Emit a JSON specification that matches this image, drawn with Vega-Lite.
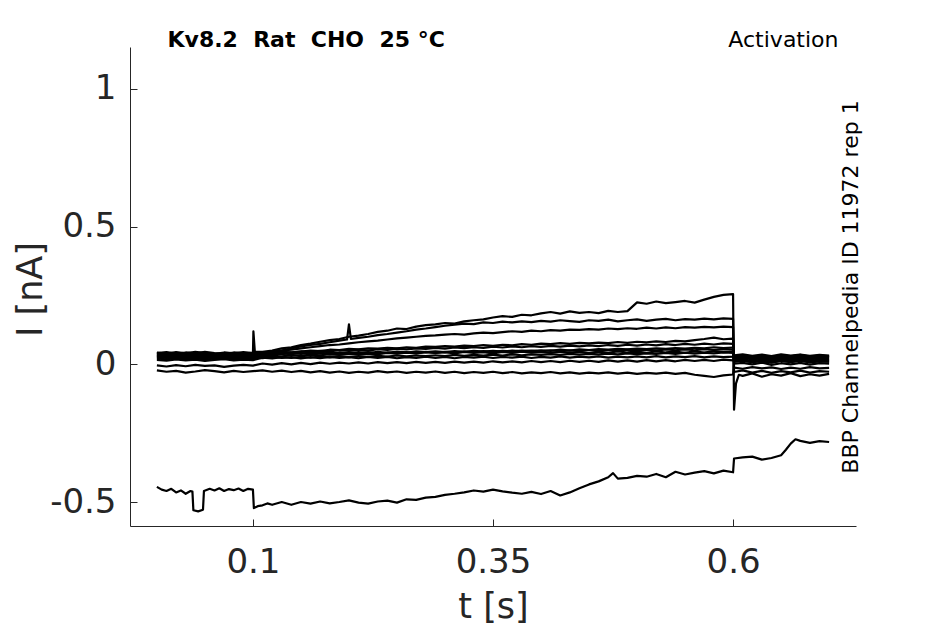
{
  "$schema": "https://vega.github.io/schema/vega-lite/v6.json",
  "autosize": "none",
  "padding": {"left": 130, "top": 47, "right": 89, "bottom": 98},
  "width": 726,
  "height": 479,
  "data": {"values": [
    {"s":1,"t":0,"i":0.036},{"s":1,"t":0.01,"i":0.033},{"s":1,"t":0.02,"i":0.038},{"s":1,"t":0.03,"i":0.034},{"s":1,"t":0.04,"i":0.037},{"s":1,"t":0.05,"i":0.032},{"s":1,"t":0.06,"i":0.036},{"s":1,"t":0.07,"i":0.039},{"s":1,"t":0.08,"i":0.034},{"s":1,"t":0.09,"i":0.037},{"s":1,"t":0.1,"i":0.035},{"s":1,"t":0.1005,"i":0.12},{"s":1,"t":0.102,"i":0.045},{"s":1,"t":0.11,"i":0.045},{"s":1,"t":0.12,"i":0.05},{"s":1,"t":0.13,"i":0.058},{"s":1,"t":0.14,"i":0.062},{"s":1,"t":0.15,"i":0.07},{"s":1,"t":0.16,"i":0.075},{"s":1,"t":0.17,"i":0.082},{"s":1,"t":0.18,"i":0.088},{"s":1,"t":0.19,"i":0.092},{"s":1,"t":0.2,"i":0.1},{"s":1,"t":0.21,"i":0.104},{"s":1,"t":0.22,"i":0.11},{"s":1,"t":0.23,"i":0.118},{"s":1,"t":0.24,"i":0.122},{"s":1,"t":0.25,"i":0.13},{"s":1,"t":0.26,"i":0.128},{"s":1,"t":0.27,"i":0.137},{"s":1,"t":0.28,"i":0.142},{"s":1,"t":0.29,"i":0.145},{"s":1,"t":0.3,"i":0.15},{"s":1,"t":0.31,"i":0.148},{"s":1,"t":0.32,"i":0.156},{"s":1,"t":0.33,"i":0.16},{"s":1,"t":0.34,"i":0.163},{"s":1,"t":0.35,"i":0.17},{"s":1,"t":0.36,"i":0.175},{"s":1,"t":0.37,"i":0.172},{"s":1,"t":0.38,"i":0.18},{"s":1,"t":0.39,"i":0.178},{"s":1,"t":0.4,"i":0.185},{"s":1,"t":0.41,"i":0.19},{"s":1,"t":0.42,"i":0.184},{"s":1,"t":0.43,"i":0.192},{"s":1,"t":0.44,"i":0.187},{"s":1,"t":0.45,"i":0.19},{"s":1,"t":0.46,"i":0.186},{"s":1,"t":0.47,"i":0.194},{"s":1,"t":0.48,"i":0.19},{"s":1,"t":0.49,"i":0.193},{"s":1,"t":0.5,"i":0.225},{"s":1,"t":0.51,"i":0.22},{"s":1,"t":0.52,"i":0.228},{"s":1,"t":0.53,"i":0.222},{"s":1,"t":0.54,"i":0.226},{"s":1,"t":0.55,"i":0.23},{"s":1,"t":0.56,"i":0.224},{"s":1,"t":0.57,"i":0.235},{"s":1,"t":0.58,"i":0.245},{"s":1,"t":0.59,"i":0.252},{"s":1,"t":0.6,"i":0.255},{"s":1,"t":0.601,"i":-0.165},{"s":1,"t":0.603,"i":-0.07},{"s":1,"t":0.606,"i":-0.038},{"s":1,"t":0.61,"i":-0.042},{"s":1,"t":0.62,"i":-0.033},{"s":1,"t":0.63,"i":-0.045},{"s":1,"t":0.64,"i":-0.036},{"s":1,"t":0.65,"i":-0.041},{"s":1,"t":0.66,"i":-0.032},{"s":1,"t":0.67,"i":-0.043},{"s":1,"t":0.68,"i":-0.036},{"s":1,"t":0.69,"i":-0.041},{"s":1,"t":0.7,"i":-0.035},
    {"s":2,"t":0,"i":0.031},{"s":2,"t":0.01,"i":0.034},{"s":2,"t":0.02,"i":0.029},{"s":2,"t":0.03,"i":0.033},{"s":2,"t":0.04,"i":0.03},{"s":2,"t":0.05,"i":0.035},{"s":2,"t":0.06,"i":0.031},{"s":2,"t":0.07,"i":0.028},{"s":2,"t":0.08,"i":0.033},{"s":2,"t":0.09,"i":0.03},{"s":2,"t":0.1,"i":0.032},{"s":2,"t":0.11,"i":0.04},{"s":2,"t":0.12,"i":0.045},{"s":2,"t":0.13,"i":0.05},{"s":2,"t":0.14,"i":0.058},{"s":2,"t":0.15,"i":0.065},{"s":2,"t":0.16,"i":0.07},{"s":2,"t":0.17,"i":0.074},{"s":2,"t":0.18,"i":0.08},{"s":2,"t":0.19,"i":0.086},{"s":2,"t":0.198,"i":0.09},{"s":2,"t":0.2,"i":0.145},{"s":2,"t":0.202,"i":0.092},{"s":2,"t":0.21,"i":0.096},{"s":2,"t":0.22,"i":0.1},{"s":2,"t":0.23,"i":0.106},{"s":2,"t":0.24,"i":0.11},{"s":2,"t":0.25,"i":0.115},{"s":2,"t":0.26,"i":0.12},{"s":2,"t":0.27,"i":0.126},{"s":2,"t":0.28,"i":0.13},{"s":2,"t":0.29,"i":0.135},{"s":2,"t":0.3,"i":0.14},{"s":2,"t":0.31,"i":0.144},{"s":2,"t":0.32,"i":0.148},{"s":2,"t":0.33,"i":0.146},{"s":2,"t":0.34,"i":0.152},{"s":2,"t":0.35,"i":0.15},{"s":2,"t":0.36,"i":0.155},{"s":2,"t":0.37,"i":0.152},{"s":2,"t":0.38,"i":0.156},{"s":2,"t":0.39,"i":0.153},{"s":2,"t":0.4,"i":0.158},{"s":2,"t":0.41,"i":0.155},{"s":2,"t":0.42,"i":0.16},{"s":2,"t":0.43,"i":0.157},{"s":2,"t":0.44,"i":0.154},{"s":2,"t":0.45,"i":0.16},{"s":2,"t":0.46,"i":0.158},{"s":2,"t":0.47,"i":0.162},{"s":2,"t":0.48,"i":0.156},{"s":2,"t":0.49,"i":0.16},{"s":2,"t":0.5,"i":0.163},{"s":2,"t":0.51,"i":0.158},{"s":2,"t":0.52,"i":0.162},{"s":2,"t":0.53,"i":0.165},{"s":2,"t":0.54,"i":0.16},{"s":2,"t":0.55,"i":0.164},{"s":2,"t":0.56,"i":0.162},{"s":2,"t":0.57,"i":0.166},{"s":2,"t":0.58,"i":0.163},{"s":2,"t":0.59,"i":0.167},{"s":2,"t":0.6,"i":0.165},{"s":2,"t":0.601,"i":-0.028},{"s":2,"t":0.61,"i":-0.022},{"s":2,"t":0.62,"i":-0.03},{"s":2,"t":0.63,"i":-0.024},{"s":2,"t":0.64,"i":-0.031},{"s":2,"t":0.65,"i":-0.025},{"s":2,"t":0.66,"i":-0.029},{"s":2,"t":0.67,"i":-0.023},{"s":2,"t":0.68,"i":-0.03},{"s":2,"t":0.69,"i":-0.025},{"s":2,"t":0.7,"i":-0.027},
    {"s":3,"t":0,"i":0.043},{"s":3,"t":0.01,"i":0.039},{"s":3,"t":0.02,"i":0.044},{"s":3,"t":0.03,"i":0.04},{"s":3,"t":0.04,"i":0.045},{"s":3,"t":0.05,"i":0.041},{"s":3,"t":0.06,"i":0.038},{"s":3,"t":0.07,"i":0.043},{"s":3,"t":0.08,"i":0.04},{"s":3,"t":0.09,"i":0.044},{"s":3,"t":0.1,"i":0.041},{"s":3,"t":0.11,"i":0.042},{"s":3,"t":0.12,"i":0.046},{"s":3,"t":0.13,"i":0.05},{"s":3,"t":0.14,"i":0.053},{"s":3,"t":0.15,"i":0.058},{"s":3,"t":0.16,"i":0.062},{"s":3,"t":0.17,"i":0.066},{"s":3,"t":0.18,"i":0.07},{"s":3,"t":0.19,"i":0.072},{"s":3,"t":0.2,"i":0.076},{"s":3,"t":0.21,"i":0.08},{"s":3,"t":0.22,"i":0.083},{"s":3,"t":0.23,"i":0.086},{"s":3,"t":0.24,"i":0.09},{"s":3,"t":0.25,"i":0.094},{"s":3,"t":0.26,"i":0.097},{"s":3,"t":0.27,"i":0.1},{"s":3,"t":0.28,"i":0.103},{"s":3,"t":0.29,"i":0.105},{"s":3,"t":0.3,"i":0.108},{"s":3,"t":0.31,"i":0.11},{"s":3,"t":0.32,"i":0.108},{"s":3,"t":0.33,"i":0.112},{"s":3,"t":0.34,"i":0.115},{"s":3,"t":0.35,"i":0.113},{"s":3,"t":0.36,"i":0.117},{"s":3,"t":0.37,"i":0.12},{"s":3,"t":0.38,"i":0.118},{"s":3,"t":0.39,"i":0.122},{"s":3,"t":0.4,"i":0.12},{"s":3,"t":0.41,"i":0.124},{"s":3,"t":0.42,"i":0.122},{"s":3,"t":0.43,"i":0.126},{"s":3,"t":0.44,"i":0.125},{"s":3,"t":0.45,"i":0.128},{"s":3,"t":0.46,"i":0.126},{"s":3,"t":0.47,"i":0.13},{"s":3,"t":0.48,"i":0.128},{"s":3,"t":0.49,"i":0.131},{"s":3,"t":0.5,"i":0.129},{"s":3,"t":0.51,"i":0.133},{"s":3,"t":0.52,"i":0.13},{"s":3,"t":0.53,"i":0.134},{"s":3,"t":0.54,"i":0.131},{"s":3,"t":0.55,"i":0.135},{"s":3,"t":0.56,"i":0.133},{"s":3,"t":0.57,"i":0.136},{"s":3,"t":0.58,"i":0.134},{"s":3,"t":0.59,"i":0.137},{"s":3,"t":0.6,"i":0.135},{"s":3,"t":0.601,"i":-0.012},{"s":3,"t":0.61,"i":-0.016},{"s":3,"t":0.62,"i":-0.01},{"s":3,"t":0.63,"i":-0.015},{"s":3,"t":0.64,"i":-0.011},{"s":3,"t":0.65,"i":-0.017},{"s":3,"t":0.66,"i":-0.012},{"s":3,"t":0.67,"i":-0.016},{"s":3,"t":0.68,"i":-0.01},{"s":3,"t":0.69,"i":-0.015},{"s":3,"t":0.7,"i":-0.013},
    {"s":4,"t":0,"i":0.026},{"s":4,"t":0.01,"i":0.023},{"s":4,"t":0.02,"i":0.028},{"s":4,"t":0.03,"i":0.024},{"s":4,"t":0.04,"i":0.027},{"s":4,"t":0.05,"i":0.022},{"s":4,"t":0.06,"i":0.026},{"s":4,"t":0.07,"i":0.029},{"s":4,"t":0.08,"i":0.024},{"s":4,"t":0.09,"i":0.027},{"s":4,"t":0.1,"i":0.025},{"s":4,"t":0.11,"i":0.032},{"s":4,"t":0.12,"i":0.036},{"s":4,"t":0.13,"i":0.04},{"s":4,"t":0.14,"i":0.043},{"s":4,"t":0.15,"i":0.046},{"s":4,"t":0.16,"i":0.05},{"s":4,"t":0.17,"i":0.048},{"s":4,"t":0.18,"i":0.053},{"s":4,"t":0.19,"i":0.052},{"s":4,"t":0.2,"i":0.056},{"s":4,"t":0.21,"i":0.054},{"s":4,"t":0.22,"i":0.058},{"s":4,"t":0.23,"i":0.057},{"s":4,"t":0.24,"i":0.06},{"s":4,"t":0.25,"i":0.058},{"s":4,"t":0.26,"i":0.062},{"s":4,"t":0.27,"i":0.06},{"s":4,"t":0.28,"i":0.064},{"s":4,"t":0.29,"i":0.063},{"s":4,"t":0.3,"i":0.066},{"s":4,"t":0.31,"i":0.064},{"s":4,"t":0.32,"i":0.068},{"s":4,"t":0.33,"i":0.066},{"s":4,"t":0.34,"i":0.07},{"s":4,"t":0.35,"i":0.067},{"s":4,"t":0.36,"i":0.071},{"s":4,"t":0.37,"i":0.069},{"s":4,"t":0.38,"i":0.073},{"s":4,"t":0.39,"i":0.071},{"s":4,"t":0.4,"i":0.075},{"s":4,"t":0.41,"i":0.073},{"s":4,"t":0.42,"i":0.077},{"s":4,"t":0.43,"i":0.074},{"s":4,"t":0.44,"i":0.078},{"s":4,"t":0.45,"i":0.076},{"s":4,"t":0.46,"i":0.079},{"s":4,"t":0.47,"i":0.077},{"s":4,"t":0.48,"i":0.081},{"s":4,"t":0.49,"i":0.078},{"s":4,"t":0.5,"i":0.082},{"s":4,"t":0.51,"i":0.08},{"s":4,"t":0.52,"i":0.083},{"s":4,"t":0.53,"i":0.081},{"s":4,"t":0.54,"i":0.085},{"s":4,"t":0.55,"i":0.083},{"s":4,"t":0.56,"i":0.088},{"s":4,"t":0.57,"i":0.092},{"s":4,"t":0.58,"i":0.097},{"s":4,"t":0.59,"i":0.091},{"s":4,"t":0.6,"i":0.093},{"s":4,"t":0.601,"i":0.002},{"s":4,"t":0.61,"i":0.005},{"s":4,"t":0.62,"i":0.0},{"s":4,"t":0.63,"i":0.006},{"s":4,"t":0.64,"i":-0.002},{"s":4,"t":0.65,"i":0.004},{"s":4,"t":0.66,"i":0.0},{"s":4,"t":0.67,"i":0.005},{"s":4,"t":0.68,"i":-0.001},{"s":4,"t":0.69,"i":0.004},{"s":4,"t":0.7,"i":0.002},
    {"s":5,"t":0,"i":0.036},{"s":5,"t":0.01,"i":0.039},{"s":5,"t":0.02,"i":0.034},{"s":5,"t":0.03,"i":0.038},{"s":5,"t":0.04,"i":0.035},{"s":5,"t":0.05,"i":0.04},{"s":5,"t":0.06,"i":0.036},{"s":5,"t":0.07,"i":0.033},{"s":5,"t":0.08,"i":0.038},{"s":5,"t":0.09,"i":0.035},{"s":5,"t":0.1,"i":0.037},{"s":5,"t":0.11,"i":0.042},{"s":5,"t":0.12,"i":0.04},{"s":5,"t":0.13,"i":0.045},{"s":5,"t":0.14,"i":0.043},{"s":5,"t":0.15,"i":0.047},{"s":5,"t":0.16,"i":0.045},{"s":5,"t":0.17,"i":0.049},{"s":5,"t":0.18,"i":0.047},{"s":5,"t":0.19,"i":0.051},{"s":5,"t":0.2,"i":0.049},{"s":5,"t":0.21,"i":0.053},{"s":5,"t":0.22,"i":0.05},{"s":5,"t":0.23,"i":0.055},{"s":5,"t":0.24,"i":0.052},{"s":5,"t":0.25,"i":0.057},{"s":5,"t":0.26,"i":0.054},{"s":5,"t":0.27,"i":0.058},{"s":5,"t":0.28,"i":0.056},{"s":5,"t":0.29,"i":0.06},{"s":5,"t":0.3,"i":0.057},{"s":5,"t":0.31,"i":0.061},{"s":5,"t":0.32,"i":0.059},{"s":5,"t":0.33,"i":0.062},{"s":5,"t":0.34,"i":0.06},{"s":5,"t":0.35,"i":0.064},{"s":5,"t":0.36,"i":0.061},{"s":5,"t":0.37,"i":0.065},{"s":5,"t":0.38,"i":0.062},{"s":5,"t":0.39,"i":0.066},{"s":5,"t":0.4,"i":0.063},{"s":5,"t":0.41,"i":0.067},{"s":5,"t":0.42,"i":0.064},{"s":5,"t":0.43,"i":0.068},{"s":5,"t":0.44,"i":0.065},{"s":5,"t":0.45,"i":0.069},{"s":5,"t":0.46,"i":0.066},{"s":5,"t":0.47,"i":0.07},{"s":5,"t":0.48,"i":0.067},{"s":5,"t":0.49,"i":0.071},{"s":5,"t":0.5,"i":0.068},{"s":5,"t":0.51,"i":0.072},{"s":5,"t":0.52,"i":0.069},{"s":5,"t":0.53,"i":0.073},{"s":5,"t":0.54,"i":0.07},{"s":5,"t":0.55,"i":0.074},{"s":5,"t":0.56,"i":0.071},{"s":5,"t":0.57,"i":0.075},{"s":5,"t":0.58,"i":0.072},{"s":5,"t":0.59,"i":0.076},{"s":5,"t":0.6,"i":0.074},{"s":5,"t":0.601,"i":0.02},{"s":5,"t":0.61,"i":0.024},{"s":5,"t":0.62,"i":0.018},{"s":5,"t":0.63,"i":0.022},{"s":5,"t":0.64,"i":0.017},{"s":5,"t":0.65,"i":0.023},{"s":5,"t":0.66,"i":0.019},{"s":5,"t":0.67,"i":0.024},{"s":5,"t":0.68,"i":0.018},{"s":5,"t":0.69,"i":0.022},{"s":5,"t":0.7,"i":0.02},
    {"s":6,"t":0,"i":0.021},{"s":6,"t":0.01,"i":0.018},{"s":6,"t":0.02,"i":0.023},{"s":6,"t":0.03,"i":0.019},{"s":6,"t":0.04,"i":0.022},{"s":6,"t":0.05,"i":0.017},{"s":6,"t":0.06,"i":0.021},{"s":6,"t":0.07,"i":0.024},{"s":6,"t":0.08,"i":0.019},{"s":6,"t":0.09,"i":0.022},{"s":6,"t":0.1,"i":0.02},{"s":6,"t":0.11,"i":0.028},{"s":6,"t":0.12,"i":0.031},{"s":6,"t":0.13,"i":0.029},{"s":6,"t":0.14,"i":0.033},{"s":6,"t":0.15,"i":0.031},{"s":6,"t":0.16,"i":0.035},{"s":6,"t":0.17,"i":0.033},{"s":6,"t":0.18,"i":0.036},{"s":6,"t":0.19,"i":0.034},{"s":6,"t":0.2,"i":0.038},{"s":6,"t":0.21,"i":0.036},{"s":6,"t":0.22,"i":0.039},{"s":6,"t":0.23,"i":0.037},{"s":6,"t":0.24,"i":0.041},{"s":6,"t":0.25,"i":0.039},{"s":6,"t":0.26,"i":0.042},{"s":6,"t":0.27,"i":0.04},{"s":6,"t":0.28,"i":0.044},{"s":6,"t":0.29,"i":0.041},{"s":6,"t":0.3,"i":0.045},{"s":6,"t":0.31,"i":0.043},{"s":6,"t":0.32,"i":0.046},{"s":6,"t":0.33,"i":0.044},{"s":6,"t":0.34,"i":0.048},{"s":6,"t":0.35,"i":0.045},{"s":6,"t":0.36,"i":0.049},{"s":6,"t":0.37,"i":0.047},{"s":6,"t":0.38,"i":0.05},{"s":6,"t":0.39,"i":0.048},{"s":6,"t":0.4,"i":0.051},{"s":6,"t":0.41,"i":0.049},{"s":6,"t":0.42,"i":0.053},{"s":6,"t":0.43,"i":0.05},{"s":6,"t":0.44,"i":0.054},{"s":6,"t":0.45,"i":0.052},{"s":6,"t":0.46,"i":0.055},{"s":6,"t":0.47,"i":0.053},{"s":6,"t":0.48,"i":0.056},{"s":6,"t":0.49,"i":0.054},{"s":6,"t":0.5,"i":0.057},{"s":6,"t":0.51,"i":0.055},{"s":6,"t":0.52,"i":0.058},{"s":6,"t":0.53,"i":0.056},{"s":6,"t":0.54,"i":0.059},{"s":6,"t":0.55,"i":0.057},{"s":6,"t":0.56,"i":0.06},{"s":6,"t":0.57,"i":0.058},{"s":6,"t":0.58,"i":0.062},{"s":6,"t":0.59,"i":0.059},{"s":6,"t":0.6,"i":0.061},{"s":6,"t":0.601,"i":0.01},{"s":6,"t":0.61,"i":0.013},{"s":6,"t":0.62,"i":0.008},{"s":6,"t":0.63,"i":0.012},{"s":6,"t":0.64,"i":0.007},{"s":6,"t":0.65,"i":0.013},{"s":6,"t":0.66,"i":0.009},{"s":6,"t":0.67,"i":0.014},{"s":6,"t":0.68,"i":0.008},{"s":6,"t":0.69,"i":0.012},{"s":6,"t":0.7,"i":0.01},
    {"s":7,"t":0,"i":0.031},{"s":7,"t":0.01,"i":0.028},{"s":7,"t":0.02,"i":0.033},{"s":7,"t":0.03,"i":0.029},{"s":7,"t":0.04,"i":0.032},{"s":7,"t":0.05,"i":0.027},{"s":7,"t":0.06,"i":0.031},{"s":7,"t":0.07,"i":0.034},{"s":7,"t":0.08,"i":0.029},{"s":7,"t":0.09,"i":0.032},{"s":7,"t":0.1,"i":0.03},{"s":7,"t":0.11,"i":0.038},{"s":7,"t":0.12,"i":0.036},{"s":7,"t":0.13,"i":0.04},{"s":7,"t":0.14,"i":0.037},{"s":7,"t":0.15,"i":0.041},{"s":7,"t":0.16,"i":0.038},{"s":7,"t":0.17,"i":0.042},{"s":7,"t":0.18,"i":0.039},{"s":7,"t":0.19,"i":0.043},{"s":7,"t":0.2,"i":0.04},{"s":7,"t":0.21,"i":0.044},{"s":7,"t":0.22,"i":0.041},{"s":7,"t":0.23,"i":0.045},{"s":7,"t":0.24,"i":0.042},{"s":7,"t":0.25,"i":0.046},{"s":7,"t":0.26,"i":0.043},{"s":7,"t":0.27,"i":0.047},{"s":7,"t":0.28,"i":0.044},{"s":7,"t":0.29,"i":0.047},{"s":7,"t":0.3,"i":0.044},{"s":7,"t":0.31,"i":0.048},{"s":7,"t":0.32,"i":0.045},{"s":7,"t":0.33,"i":0.049},{"s":7,"t":0.34,"i":0.046},{"s":7,"t":0.35,"i":0.049},{"s":7,"t":0.36,"i":0.046},{"s":7,"t":0.37,"i":0.05},{"s":7,"t":0.38,"i":0.047},{"s":7,"t":0.39,"i":0.05},{"s":7,"t":0.4,"i":0.047},{"s":7,"t":0.41,"i":0.051},{"s":7,"t":0.42,"i":0.048},{"s":7,"t":0.43,"i":0.051},{"s":7,"t":0.44,"i":0.048},{"s":7,"t":0.45,"i":0.052},{"s":7,"t":0.46,"i":0.049},{"s":7,"t":0.47,"i":0.052},{"s":7,"t":0.48,"i":0.049},{"s":7,"t":0.49,"i":0.053},{"s":7,"t":0.5,"i":0.05},{"s":7,"t":0.51,"i":0.053},{"s":7,"t":0.52,"i":0.05},{"s":7,"t":0.53,"i":0.054},{"s":7,"t":0.54,"i":0.051},{"s":7,"t":0.55,"i":0.054},{"s":7,"t":0.56,"i":0.051},{"s":7,"t":0.57,"i":0.055},{"s":7,"t":0.58,"i":0.052},{"s":7,"t":0.59,"i":0.055},{"s":7,"t":0.6,"i":0.053},{"s":7,"t":0.601,"i":0.025},{"s":7,"t":0.61,"i":0.028},{"s":7,"t":0.62,"i":0.023},{"s":7,"t":0.63,"i":0.027},{"s":7,"t":0.64,"i":0.022},{"s":7,"t":0.65,"i":0.028},{"s":7,"t":0.66,"i":0.024},{"s":7,"t":0.67,"i":0.029},{"s":7,"t":0.68,"i":0.023},{"s":7,"t":0.69,"i":0.027},{"s":7,"t":0.7,"i":0.025},
    {"s":8,"t":0,"i":0.016},{"s":8,"t":0.01,"i":0.013},{"s":8,"t":0.02,"i":0.018},{"s":8,"t":0.03,"i":0.014},{"s":8,"t":0.04,"i":0.017},{"s":8,"t":0.05,"i":0.012},{"s":8,"t":0.06,"i":0.016},{"s":8,"t":0.07,"i":0.019},{"s":8,"t":0.08,"i":0.014},{"s":8,"t":0.09,"i":0.017},{"s":8,"t":0.1,"i":0.015},{"s":8,"t":0.11,"i":0.024},{"s":8,"t":0.12,"i":0.021},{"s":8,"t":0.13,"i":0.026},{"s":8,"t":0.14,"i":0.023},{"s":8,"t":0.15,"i":0.027},{"s":8,"t":0.16,"i":0.024},{"s":8,"t":0.17,"i":0.028},{"s":8,"t":0.18,"i":0.025},{"s":8,"t":0.19,"i":0.029},{"s":8,"t":0.2,"i":0.026},{"s":8,"t":0.21,"i":0.03},{"s":8,"t":0.22,"i":0.027},{"s":8,"t":0.23,"i":0.031},{"s":8,"t":0.24,"i":0.028},{"s":8,"t":0.25,"i":0.032},{"s":8,"t":0.26,"i":0.029},{"s":8,"t":0.27,"i":0.032},{"s":8,"t":0.28,"i":0.03},{"s":8,"t":0.29,"i":0.033},{"s":8,"t":0.3,"i":0.03},{"s":8,"t":0.31,"i":0.034},{"s":8,"t":0.32,"i":0.031},{"s":8,"t":0.33,"i":0.034},{"s":8,"t":0.34,"i":0.032},{"s":8,"t":0.35,"i":0.035},{"s":8,"t":0.36,"i":0.032},{"s":8,"t":0.37,"i":0.036},{"s":8,"t":0.38,"i":0.033},{"s":8,"t":0.39,"i":0.036},{"s":8,"t":0.4,"i":0.034},{"s":8,"t":0.41,"i":0.037},{"s":8,"t":0.42,"i":0.034},{"s":8,"t":0.43,"i":0.038},{"s":8,"t":0.44,"i":0.035},{"s":8,"t":0.45,"i":0.038},{"s":8,"t":0.46,"i":0.036},{"s":8,"t":0.47,"i":0.039},{"s":8,"t":0.48,"i":0.036},{"s":8,"t":0.49,"i":0.04},{"s":8,"t":0.5,"i":0.037},{"s":8,"t":0.51,"i":0.04},{"s":8,"t":0.52,"i":0.038},{"s":8,"t":0.53,"i":0.041},{"s":8,"t":0.54,"i":0.038},{"s":8,"t":0.55,"i":0.042},{"s":8,"t":0.56,"i":0.039},{"s":8,"t":0.57,"i":0.042},{"s":8,"t":0.58,"i":0.04},{"s":8,"t":0.59,"i":0.043},{"s":8,"t":0.6,"i":0.041},{"s":8,"t":0.601,"i":0.03},{"s":8,"t":0.61,"i":0.033},{"s":8,"t":0.62,"i":0.028},{"s":8,"t":0.63,"i":0.032},{"s":8,"t":0.64,"i":0.027},{"s":8,"t":0.65,"i":0.033},{"s":8,"t":0.66,"i":0.029},{"s":8,"t":0.67,"i":0.034},{"s":8,"t":0.68,"i":0.028},{"s":8,"t":0.69,"i":0.032},{"s":8,"t":0.7,"i":0.03},
    {"s":9,"t":0,"i":0.041},{"s":9,"t":0.01,"i":0.044},{"s":9,"t":0.02,"i":0.039},{"s":9,"t":0.03,"i":0.043},{"s":9,"t":0.04,"i":0.04},{"s":9,"t":0.05,"i":0.045},{"s":9,"t":0.06,"i":0.041},{"s":9,"t":0.07,"i":0.038},{"s":9,"t":0.08,"i":0.043},{"s":9,"t":0.09,"i":0.04},{"s":9,"t":0.1,"i":0.042},{"s":9,"t":0.11,"i":0.038},{"s":9,"t":0.12,"i":0.042},{"s":9,"t":0.13,"i":0.037},{"s":9,"t":0.14,"i":0.041},{"s":9,"t":0.15,"i":0.038},{"s":9,"t":0.16,"i":0.043},{"s":9,"t":0.17,"i":0.039},{"s":9,"t":0.18,"i":0.042},{"s":9,"t":0.19,"i":0.038},{"s":9,"t":0.2,"i":0.043},{"s":9,"t":0.21,"i":0.04},{"s":9,"t":0.22,"i":0.044},{"s":9,"t":0.23,"i":0.039},{"s":9,"t":0.24,"i":0.043},{"s":9,"t":0.25,"i":0.04},{"s":9,"t":0.26,"i":0.044},{"s":9,"t":0.27,"i":0.04},{"s":9,"t":0.28,"i":0.045},{"s":9,"t":0.29,"i":0.041},{"s":9,"t":0.3,"i":0.044},{"s":9,"t":0.31,"i":0.04},{"s":9,"t":0.32,"i":0.045},{"s":9,"t":0.33,"i":0.041},{"s":9,"t":0.34,"i":0.044},{"s":9,"t":0.35,"i":0.04},{"s":9,"t":0.36,"i":0.045},{"s":9,"t":0.37,"i":0.041},{"s":9,"t":0.38,"i":0.046},{"s":9,"t":0.39,"i":0.042},{"s":9,"t":0.4,"i":0.045},{"s":9,"t":0.41,"i":0.041},{"s":9,"t":0.42,"i":0.046},{"s":9,"t":0.43,"i":0.042},{"s":9,"t":0.44,"i":0.045},{"s":9,"t":0.45,"i":0.041},{"s":9,"t":0.46,"i":0.046},{"s":9,"t":0.47,"i":0.042},{"s":9,"t":0.48,"i":0.047},{"s":9,"t":0.49,"i":0.043},{"s":9,"t":0.5,"i":0.046},{"s":9,"t":0.51,"i":0.042},{"s":9,"t":0.52,"i":0.047},{"s":9,"t":0.53,"i":0.043},{"s":9,"t":0.54,"i":0.046},{"s":9,"t":0.55,"i":0.042},{"s":9,"t":0.56,"i":0.047},{"s":9,"t":0.57,"i":0.043},{"s":9,"t":0.58,"i":0.048},{"s":9,"t":0.59,"i":0.044},{"s":9,"t":0.6,"i":0.046},{"s":9,"t":0.601,"i":0.015},{"s":9,"t":0.61,"i":0.018},{"s":9,"t":0.62,"i":0.013},{"s":9,"t":0.63,"i":0.017},{"s":9,"t":0.64,"i":0.012},{"s":9,"t":0.65,"i":0.018},{"s":9,"t":0.66,"i":0.014},{"s":9,"t":0.67,"i":0.019},{"s":9,"t":0.68,"i":0.013},{"s":9,"t":0.69,"i":0.017},{"s":9,"t":0.7,"i":0.015},
    {"s":10,"t":0,"i":0.024},{"s":10,"t":0.01,"i":0.027},{"s":10,"t":0.02,"i":0.022},{"s":10,"t":0.03,"i":0.026},{"s":10,"t":0.04,"i":0.023},{"s":10,"t":0.05,"i":0.028},{"s":10,"t":0.06,"i":0.024},{"s":10,"t":0.07,"i":0.021},{"s":10,"t":0.08,"i":0.026},{"s":10,"t":0.09,"i":0.023},{"s":10,"t":0.1,"i":0.025},{"s":10,"t":0.11,"i":0.022},{"s":10,"t":0.12,"i":0.027},{"s":10,"t":0.13,"i":0.023},{"s":10,"t":0.14,"i":0.026},{"s":10,"t":0.15,"i":0.021},{"s":10,"t":0.16,"i":0.026},{"s":10,"t":0.17,"i":0.022},{"s":10,"t":0.18,"i":0.027},{"s":10,"t":0.19,"i":0.023},{"s":10,"t":0.2,"i":0.026},{"s":10,"t":0.21,"i":0.022},{"s":10,"t":0.22,"i":0.027},{"s":10,"t":0.23,"i":0.023},{"s":10,"t":0.24,"i":0.027},{"s":10,"t":0.25,"i":0.022},{"s":10,"t":0.26,"i":0.026},{"s":10,"t":0.27,"i":0.023},{"s":10,"t":0.28,"i":0.028},{"s":10,"t":0.29,"i":0.023},{"s":10,"t":0.3,"i":0.027},{"s":10,"t":0.31,"i":0.022},{"s":10,"t":0.32,"i":0.027},{"s":10,"t":0.33,"i":0.024},{"s":10,"t":0.34,"i":0.028},{"s":10,"t":0.35,"i":0.023},{"s":10,"t":0.36,"i":0.027},{"s":10,"t":0.37,"i":0.024},{"s":10,"t":0.38,"i":0.028},{"s":10,"t":0.39,"i":0.023},{"s":10,"t":0.4,"i":0.027},{"s":10,"t":0.41,"i":0.024},{"s":10,"t":0.42,"i":0.029},{"s":10,"t":0.43,"i":0.024},{"s":10,"t":0.44,"i":0.028},{"s":10,"t":0.45,"i":0.025},{"s":10,"t":0.46,"i":0.029},{"s":10,"t":0.47,"i":0.024},{"s":10,"t":0.48,"i":0.028},{"s":10,"t":0.49,"i":0.025},{"s":10,"t":0.5,"i":0.029},{"s":10,"t":0.51,"i":0.025},{"s":10,"t":0.52,"i":0.03},{"s":10,"t":0.53,"i":0.025},{"s":10,"t":0.54,"i":0.029},{"s":10,"t":0.55,"i":0.026},{"s":10,"t":0.56,"i":0.03},{"s":10,"t":0.57,"i":0.025},{"s":10,"t":0.58,"i":0.029},{"s":10,"t":0.59,"i":0.026},{"s":10,"t":0.6,"i":0.028},{"s":10,"t":0.601,"i":0.033},{"s":10,"t":0.61,"i":0.036},{"s":10,"t":0.62,"i":0.031},{"s":10,"t":0.63,"i":0.035},{"s":10,"t":0.64,"i":0.03},{"s":10,"t":0.65,"i":0.036},{"s":10,"t":0.66,"i":0.032},{"s":10,"t":0.67,"i":0.035},{"s":10,"t":0.68,"i":0.031},{"s":10,"t":0.69,"i":0.034},{"s":10,"t":0.7,"i":0.032},
    {"s":11,"t":0,"i":-0.004},{"s":11,"t":0.01,"i":-0.008},{"s":11,"t":0.02,"i":-0.003},{"s":11,"t":0.03,"i":-0.007},{"s":11,"t":0.04,"i":-0.002},{"s":11,"t":0.05,"i":-0.006},{"s":11,"t":0.06,"i":-0.004},{"s":11,"t":0.07,"i":-0.009},{"s":11,"t":0.08,"i":-0.005},{"s":11,"t":0.09,"i":-0.002},{"s":11,"t":0.1,"i":-0.005},{"s":11,"t":0.11,"i":0.003},{"s":11,"t":0.12,"i":-0.001},{"s":11,"t":0.13,"i":0.004},{"s":11,"t":0.14,"i":0.0},{"s":11,"t":0.15,"i":0.005},{"s":11,"t":0.16,"i":0.001},{"s":11,"t":0.17,"i":0.006},{"s":11,"t":0.18,"i":0.002},{"s":11,"t":0.19,"i":0.006},{"s":11,"t":0.2,"i":0.003},{"s":11,"t":0.21,"i":0.007},{"s":11,"t":0.22,"i":0.003},{"s":11,"t":0.23,"i":0.008},{"s":11,"t":0.24,"i":0.004},{"s":11,"t":0.25,"i":0.008},{"s":11,"t":0.26,"i":0.004},{"s":11,"t":0.27,"i":0.009},{"s":11,"t":0.28,"i":0.005},{"s":11,"t":0.29,"i":0.009},{"s":11,"t":0.3,"i":0.005},{"s":11,"t":0.31,"i":0.01},{"s":11,"t":0.32,"i":0.006},{"s":11,"t":0.33,"i":0.01},{"s":11,"t":0.34,"i":0.006},{"s":11,"t":0.35,"i":0.011},{"s":11,"t":0.36,"i":0.007},{"s":11,"t":0.37,"i":0.011},{"s":11,"t":0.38,"i":0.007},{"s":11,"t":0.39,"i":0.012},{"s":11,"t":0.4,"i":0.008},{"s":11,"t":0.41,"i":0.012},{"s":11,"t":0.42,"i":0.008},{"s":11,"t":0.43,"i":0.013},{"s":11,"t":0.44,"i":0.009},{"s":11,"t":0.45,"i":0.013},{"s":11,"t":0.46,"i":0.009},{"s":11,"t":0.47,"i":0.014},{"s":11,"t":0.48,"i":0.01},{"s":11,"t":0.49,"i":0.014},{"s":11,"t":0.5,"i":0.01},{"s":11,"t":0.51,"i":0.015},{"s":11,"t":0.52,"i":0.011},{"s":11,"t":0.53,"i":0.015},{"s":11,"t":0.54,"i":0.011},{"s":11,"t":0.55,"i":0.016},{"s":11,"t":0.56,"i":0.012},{"s":11,"t":0.57,"i":0.016},{"s":11,"t":0.58,"i":0.012},{"s":11,"t":0.59,"i":0.017},{"s":11,"t":0.6,"i":0.014},{"s":11,"t":0.601,"i":0.025},{"s":11,"t":0.61,"i":0.028},{"s":11,"t":0.62,"i":0.022},{"s":11,"t":0.63,"i":0.027},{"s":11,"t":0.64,"i":0.023},{"s":11,"t":0.65,"i":0.029},{"s":11,"t":0.66,"i":0.024},{"s":11,"t":0.67,"i":0.028},{"s":11,"t":0.68,"i":0.022},{"s":11,"t":0.69,"i":0.027},{"s":11,"t":0.7,"i":0.025},
    {"s":12,"t":0,"i":-0.022},{"s":12,"t":0.01,"i":-0.027},{"s":12,"t":0.02,"i":-0.024},{"s":12,"t":0.03,"i":-0.03},{"s":12,"t":0.04,"i":-0.026},{"s":12,"t":0.05,"i":-0.021},{"s":12,"t":0.06,"i":-0.025},{"s":12,"t":0.07,"i":-0.029},{"s":12,"t":0.08,"i":-0.024},{"s":12,"t":0.09,"i":-0.028},{"s":12,"t":0.1,"i":-0.025},{"s":12,"t":0.11,"i":-0.022},{"s":12,"t":0.12,"i":-0.027},{"s":12,"t":0.13,"i":-0.023},{"s":12,"t":0.14,"i":-0.028},{"s":12,"t":0.15,"i":-0.024},{"s":12,"t":0.16,"i":-0.029},{"s":12,"t":0.17,"i":-0.025},{"s":12,"t":0.18,"i":-0.03},{"s":12,"t":0.19,"i":-0.026},{"s":12,"t":0.2,"i":-0.031},{"s":12,"t":0.21,"i":-0.027},{"s":12,"t":0.22,"i":-0.03},{"s":12,"t":0.23,"i":-0.025},{"s":12,"t":0.24,"i":-0.029},{"s":12,"t":0.25,"i":-0.026},{"s":12,"t":0.26,"i":-0.031},{"s":12,"t":0.27,"i":-0.027},{"s":12,"t":0.28,"i":-0.03},{"s":12,"t":0.29,"i":-0.026},{"s":12,"t":0.3,"i":-0.031},{"s":12,"t":0.31,"i":-0.027},{"s":12,"t":0.32,"i":-0.032},{"s":12,"t":0.33,"i":-0.028},{"s":12,"t":0.34,"i":-0.031},{"s":12,"t":0.35,"i":-0.027},{"s":12,"t":0.36,"i":-0.032},{"s":12,"t":0.37,"i":-0.028},{"s":12,"t":0.38,"i":-0.033},{"s":12,"t":0.39,"i":-0.029},{"s":12,"t":0.4,"i":-0.032},{"s":12,"t":0.41,"i":-0.028},{"s":12,"t":0.42,"i":-0.033},{"s":12,"t":0.43,"i":-0.029},{"s":12,"t":0.44,"i":-0.034},{"s":12,"t":0.45,"i":-0.03},{"s":12,"t":0.46,"i":-0.033},{"s":12,"t":0.47,"i":-0.029},{"s":12,"t":0.48,"i":-0.034},{"s":12,"t":0.49,"i":-0.03},{"s":12,"t":0.5,"i":-0.035},{"s":12,"t":0.51,"i":-0.031},{"s":12,"t":0.52,"i":-0.034},{"s":12,"t":0.53,"i":-0.03},{"s":12,"t":0.54,"i":-0.035},{"s":12,"t":0.55,"i":-0.031},{"s":12,"t":0.56,"i":-0.038},{"s":12,"t":0.57,"i":-0.042},{"s":12,"t":0.58,"i":-0.046},{"s":12,"t":0.59,"i":-0.04},{"s":12,"t":0.6,"i":-0.037},{"s":12,"t":0.601,"i":0.01},{"s":12,"t":0.61,"i":0.013},{"s":12,"t":0.62,"i":0.008},{"s":12,"t":0.63,"i":0.012},{"s":12,"t":0.64,"i":0.006},{"s":12,"t":0.65,"i":0.012},{"s":12,"t":0.66,"i":0.008},{"s":12,"t":0.67,"i":0.013},{"s":12,"t":0.68,"i":0.007},{"s":12,"t":0.69,"i":0.011},{"s":12,"t":0.7,"i":0.01},
    {"s":13,"t":0,"i":-0.445},{"s":13,"t":0.005,"i":-0.455},{"s":13,"t":0.01,"i":-0.46},{"s":13,"t":0.015,"i":-0.452},{"s":13,"t":0.02,"i":-0.465},{"s":13,"t":0.025,"i":-0.458},{"s":13,"t":0.03,"i":-0.47},{"s":13,"t":0.035,"i":-0.46},{"s":13,"t":0.037,"i":-0.462},{"s":13,"t":0.038,"i":-0.53},{"s":13,"t":0.043,"i":-0.534},{"s":13,"t":0.048,"i":-0.528},{"s":13,"t":0.049,"i":-0.46},{"s":13,"t":0.055,"i":-0.452},{"s":13,"t":0.06,"i":-0.458},{"s":13,"t":0.065,"i":-0.45},{"s":13,"t":0.07,"i":-0.46},{"s":13,"t":0.075,"i":-0.453},{"s":13,"t":0.08,"i":-0.457},{"s":13,"t":0.085,"i":-0.451},{"s":13,"t":0.09,"i":-0.46},{"s":13,"t":0.095,"i":-0.452},{"s":13,"t":0.1,"i":-0.455},{"s":13,"t":0.101,"i":-0.522},{"s":13,"t":0.105,"i":-0.515},{"s":13,"t":0.11,"i":-0.512},{"s":13,"t":0.115,"i":-0.505},{"s":13,"t":0.12,"i":-0.51},{"s":13,"t":0.13,"i":-0.5},{"s":13,"t":0.14,"i":-0.51},{"s":13,"t":0.15,"i":-0.5},{"s":13,"t":0.16,"i":-0.506},{"s":13,"t":0.17,"i":-0.498},{"s":13,"t":0.18,"i":-0.505},{"s":13,"t":0.19,"i":-0.5},{"s":13,"t":0.2,"i":-0.494},{"s":13,"t":0.21,"i":-0.502},{"s":13,"t":0.22,"i":-0.506},{"s":13,"t":0.23,"i":-0.498},{"s":13,"t":0.24,"i":-0.495},{"s":13,"t":0.25,"i":-0.502},{"s":13,"t":0.26,"i":-0.49},{"s":13,"t":0.27,"i":-0.492},{"s":13,"t":0.28,"i":-0.484},{"s":13,"t":0.29,"i":-0.481},{"s":13,"t":0.3,"i":-0.474},{"s":13,"t":0.31,"i":-0.47},{"s":13,"t":0.32,"i":-0.465},{"s":13,"t":0.33,"i":-0.458},{"s":13,"t":0.34,"i":-0.462},{"s":13,"t":0.35,"i":-0.455},{"s":13,"t":0.36,"i":-0.461},{"s":13,"t":0.37,"i":-0.466},{"s":13,"t":0.38,"i":-0.47},{"s":13,"t":0.39,"i":-0.463},{"s":13,"t":0.4,"i":-0.471},{"s":13,"t":0.41,"i":-0.46},{"s":13,"t":0.42,"i":-0.476},{"s":13,"t":0.43,"i":-0.465},{"s":13,"t":0.44,"i":-0.45},{"s":13,"t":0.45,"i":-0.436},{"s":13,"t":0.46,"i":-0.425},{"s":13,"t":0.47,"i":-0.41},{"s":13,"t":0.475,"i":-0.395},{"s":13,"t":0.48,"i":-0.415},{"s":13,"t":0.49,"i":-0.412},{"s":13,"t":0.5,"i":-0.405},{"s":13,"t":0.51,"i":-0.408},{"s":13,"t":0.52,"i":-0.398},{"s":13,"t":0.53,"i":-0.41},{"s":13,"t":0.54,"i":-0.39},{"s":13,"t":0.55,"i":-0.4},{"s":13,"t":0.56,"i":-0.393},{"s":13,"t":0.57,"i":-0.388},{"s":13,"t":0.58,"i":-0.396},{"s":13,"t":0.59,"i":-0.386},{"s":13,"t":0.6,"i":-0.392},{"s":13,"t":0.601,"i":-0.342},{"s":13,"t":0.61,"i":-0.338},{"s":13,"t":0.62,"i":-0.335},{"s":13,"t":0.63,"i":-0.346},{"s":13,"t":0.64,"i":-0.34},{"s":13,"t":0.65,"i":-0.33},{"s":13,"t":0.655,"i":-0.31},{"s":13,"t":0.66,"i":-0.288},{"s":13,"t":0.665,"i":-0.272},{"s":13,"t":0.67,"i":-0.278},{"s":13,"t":0.68,"i":-0.285},{"s":13,"t":0.69,"i":-0.279},{"s":13,"t":0.7,"i":-0.282}
  ]},
  "resolve": {"axis": {"x": "independent", "y": "independent"}},
  "layer": [
    {
      "transform": [{"filter": "datum.s <= 6"}],
      "mark": {"type": "line", "color": "black", "strokeWidth": 2.2, "strokeJoin": "round"},
      "encoding": {
        "x": {
          "field": "t", "type": "quantitative",
          "scale": {"domain": [-0.028, 0.728], "nice": false, "zero": false},
          "axis": {
            "orient": "bottom", "values": [0.1, 0.35, 0.6], "labelExpr": "'' + datum.value",
            "title": "t [s]", "titleX": 363, "titleY": 80, "titleAlign": "center", "titleBaseline": "middle",
            "titleFontSize": 35, "titleFontWeight": "normal", "tickSize": -7, "labelPadding": 26
          }
        },
        "y": {
          "field": "i", "type": "quantitative",
          "scale": {"domain": [-0.587, 1.152], "nice": false, "zero": false},
          "axis": {
            "orient": "left", "values": [-0.5, 0, 0.5, 1], "labelExpr": "'' + datum.value",
            "title": "I [nA]", "titleX": -100, "titleY": 242, "titleAngle": 270, "titleAlign": "center", "titleBaseline": "middle",
            "titleFontSize": 35, "titleFontWeight": "normal", "tickSize": -7, "labelPadding": 21
          }
        },
        "detail": {"field": "s", "type": "nominal"}
      }
    },
    {
      "transform": [{"filter": "datum.s > 6 && datum.s <= 12"}],
      "mark": {"type": "line", "color": "black", "strokeWidth": 2.2, "strokeJoin": "round"},
      "encoding": {
        "x": {
          "field": "t", "type": "quantitative",
          "axis": {
            "orient": "top", "domain": false, "ticks": false, "labels": false, "grid": false,
            "title": "Kv8.2\u00a0 Rat\u00a0 CHO\u00a0 25 °C", "titleX": 37, "titleY": -1, "titleAlign": "left", "titleBaseline": "alphabetic",
            "titleFontSize": 22, "titleFontWeight": "bold", "titleColor": "#000000"
          }
        },
        "y": {"field": "i", "type": "quantitative", "axis": null},
        "detail": {"field": "s", "type": "nominal"}
      }
    },
    {
      "transform": [{"filter": "datum.s == 13"}],
      "mark": {"type": "line", "color": "black", "strokeWidth": 2.2, "strokeJoin": "round"},
      "encoding": {
        "x": {
          "field": "t", "type": "quantitative",
          "axis": {
            "orient": "top", "domain": false, "ticks": false, "labels": false, "grid": false,
            "title": "Activation", "titleX": 708, "titleY": -1, "titleAlign": "right", "titleBaseline": "alphabetic",
            "titleFontSize": 22, "titleFontWeight": "normal", "titleColor": "#000000"
          }
        },
        "y": {
          "field": "i", "type": "quantitative",
          "axis": {
            "orient": "right", "domain": false, "ticks": false, "labels": false, "grid": false,
            "title": "BBP Channelpedia ID 11972 rep 1", "titleX": -6, "titleY": 239.5, "titleAngle": 270,
            "titleAlign": "center", "titleBaseline": "middle",
            "titleFontSize": 22, "titleFontWeight": "normal", "titleColor": "#000000"
          }
        },
        "detail": {"field": "s", "type": "nominal"}
      }
    }
  ],
  "config": {
    "font": "DejaVu Sans",
    "background": "white",
    "view": {"stroke": null},
    "axis": {
      "grid": false,
      "domainColor": "#262626",
      "domainWidth": 1,
      "tickColor": "#262626",
      "tickWidth": 1,
      "labelColor": "#262626",
      "labelFontSize": 34,
      "titleColor": "#262626",
      "labelFlush": false,
      "labelOverlap": false
    }
  }
}
